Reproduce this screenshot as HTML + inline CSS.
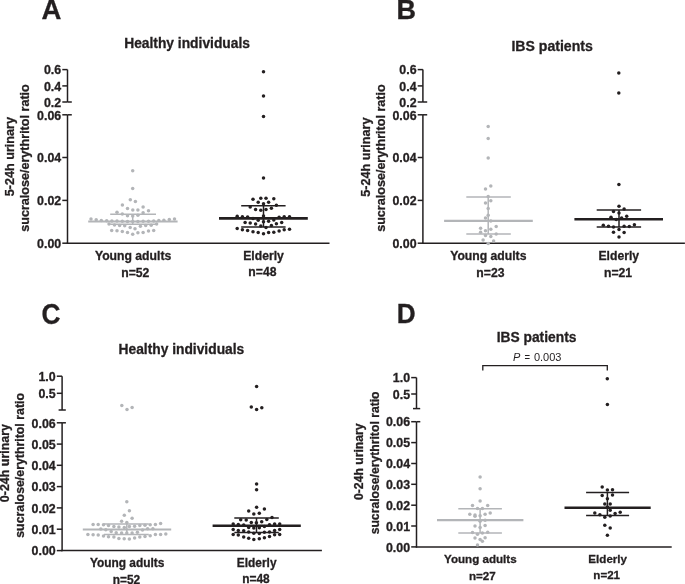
<!DOCTYPE html>
<html><head><meta charset="utf-8"><style>
html,body{margin:0;padding:0;background:#fff;}
body{width:685px;height:584px;overflow:hidden;}
svg{display:block;font-family:"Liberation Sans", sans-serif;will-change:transform;}
.b{stroke:#231f20;stroke-width:0.3px;}
</style></head><body>
<svg width="685" height="584" viewBox="0 0 685 584">
<rect width="685" height="584" fill="#fff"/>
<line x1="67.5" y1="69.6" x2="67.5" y2="102.0" stroke="#231f20" stroke-width="1.5"/>
<line x1="67.5" y1="114.8" x2="67.5" y2="243.3" stroke="#231f20" stroke-width="1.5"/>
<line x1="62.3" y1="69.6" x2="67.5" y2="69.6" stroke="#231f20" stroke-width="1.5"/>
<text x="61.2" y="74.3" font-size="12.4" text-anchor="end" font-weight="bold" font-style="normal" fill="#231f20" class="b" >0.6</text>
<line x1="62.3" y1="85.9" x2="67.5" y2="85.9" stroke="#231f20" stroke-width="1.5"/>
<text x="61.2" y="90.60000000000001" font-size="12.4" text-anchor="end" font-weight="bold" font-style="normal" fill="#231f20" class="b" >0.4</text>
<line x1="62.3" y1="102.0" x2="67.5" y2="102.0" stroke="#231f20" stroke-width="1.5"/>
<text x="61.2" y="106.7" font-size="12.4" text-anchor="end" font-weight="bold" font-style="normal" fill="#231f20" class="b" >0.2</text>
<line x1="62.3" y1="114.8" x2="67.5" y2="114.8" stroke="#231f20" stroke-width="1.5"/>
<text x="61.2" y="119.5" font-size="12.4" text-anchor="end" font-weight="bold" font-style="normal" fill="#231f20" class="b" >0.06</text>
<line x1="62.3" y1="157.5" x2="67.5" y2="157.5" stroke="#231f20" stroke-width="1.5"/>
<text x="61.2" y="162.2" font-size="12.4" text-anchor="end" font-weight="bold" font-style="normal" fill="#231f20" class="b" >0.04</text>
<line x1="62.3" y1="200.4" x2="67.5" y2="200.4" stroke="#231f20" stroke-width="1.5"/>
<text x="61.2" y="205.1" font-size="12.4" text-anchor="end" font-weight="bold" font-style="normal" fill="#231f20" class="b" >0.02</text>
<line x1="62.3" y1="243.2" x2="67.5" y2="243.2" stroke="#231f20" stroke-width="1.5"/>
<text x="61.2" y="247.89999999999998" font-size="12.4" text-anchor="end" font-weight="bold" font-style="normal" fill="#231f20" class="b" >0.00</text>
<line x1="67.5" y1="102.0" x2="71.8" y2="102.0" stroke="#231f20" stroke-width="1.5"/>
<line x1="67.5" y1="114.8" x2="71.8" y2="114.8" stroke="#231f20" stroke-width="1.5"/>
<line x1="66.75" y1="243.3" x2="329.5" y2="243.3" stroke="#231f20" stroke-width="1.5"/>
<line x1="422.9" y1="69.6" x2="422.9" y2="102.0" stroke="#231f20" stroke-width="1.5"/>
<line x1="422.9" y1="114.8" x2="422.9" y2="243.3" stroke="#231f20" stroke-width="1.5"/>
<line x1="417.7" y1="69.6" x2="422.9" y2="69.6" stroke="#231f20" stroke-width="1.5"/>
<text x="416.59999999999997" y="74.3" font-size="12.4" text-anchor="end" font-weight="bold" font-style="normal" fill="#231f20" class="b" >0.6</text>
<line x1="417.7" y1="85.9" x2="422.9" y2="85.9" stroke="#231f20" stroke-width="1.5"/>
<text x="416.59999999999997" y="90.60000000000001" font-size="12.4" text-anchor="end" font-weight="bold" font-style="normal" fill="#231f20" class="b" >0.4</text>
<line x1="417.7" y1="102.0" x2="422.9" y2="102.0" stroke="#231f20" stroke-width="1.5"/>
<text x="416.59999999999997" y="106.7" font-size="12.4" text-anchor="end" font-weight="bold" font-style="normal" fill="#231f20" class="b" >0.2</text>
<line x1="417.7" y1="114.8" x2="422.9" y2="114.8" stroke="#231f20" stroke-width="1.5"/>
<text x="416.59999999999997" y="119.5" font-size="12.4" text-anchor="end" font-weight="bold" font-style="normal" fill="#231f20" class="b" >0.06</text>
<line x1="417.7" y1="157.5" x2="422.9" y2="157.5" stroke="#231f20" stroke-width="1.5"/>
<text x="416.59999999999997" y="162.2" font-size="12.4" text-anchor="end" font-weight="bold" font-style="normal" fill="#231f20" class="b" >0.04</text>
<line x1="417.7" y1="200.4" x2="422.9" y2="200.4" stroke="#231f20" stroke-width="1.5"/>
<text x="416.59999999999997" y="205.1" font-size="12.4" text-anchor="end" font-weight="bold" font-style="normal" fill="#231f20" class="b" >0.02</text>
<line x1="417.7" y1="243.2" x2="422.9" y2="243.2" stroke="#231f20" stroke-width="1.5"/>
<text x="416.59999999999997" y="247.89999999999998" font-size="12.4" text-anchor="end" font-weight="bold" font-style="normal" fill="#231f20" class="b" >0.00</text>
<line x1="422.9" y1="102.0" x2="427.2" y2="102.0" stroke="#231f20" stroke-width="1.5"/>
<line x1="422.9" y1="114.8" x2="427.2" y2="114.8" stroke="#231f20" stroke-width="1.5"/>
<line x1="422.15" y1="243.3" x2="684.9" y2="243.3" stroke="#231f20" stroke-width="1.5"/>
<text x="41.4" y="18.7" font-size="27.5" text-anchor="start" font-weight="bold" font-style="normal" fill="#231f20" class="b" >A</text>
<text x="396.6" y="18.5" font-size="27" text-anchor="start" font-weight="bold" font-style="normal" fill="#231f20" class="b" >B</text>
<text transform="translate(41.6,323.6) scale(0.97,1.08)" font-size="27" font-weight="bold" fill="#231f20" class="b">C</text>
<text transform="translate(396.8,323.3) scale(0.97,1.04)" font-size="27" font-weight="bold" fill="#231f20" class="b">D</text>
<text x="124.2" y="47.9" font-size="13.8" text-anchor="start" font-weight="bold" font-style="normal" fill="#231f20" class="b" >Healthy individuals</text>
<text x="511.4" y="50.8" font-size="14.1" text-anchor="start" font-weight="bold" font-style="normal" fill="#231f20" class="b" >IBS patients</text>
<text x="118.5" y="354.1" font-size="13.8" text-anchor="start" font-weight="bold" font-style="normal" fill="#231f20" class="b" >Healthy individuals</text>
<text x="496.7" y="341.6" font-size="13.8" text-anchor="start" font-weight="bold" font-style="normal" fill="#231f20" class="b" >IBS patients</text>
<text transform="translate(14.0,156.6) rotate(-90)" font-size="12.62" text-anchor="middle" font-weight="bold" fill="#231f20" class="b">5-24h urinary</text>
<text transform="translate(29.0,158.0) rotate(-90)" font-size="12.58" text-anchor="middle" font-weight="bold" fill="#231f20" class="b">sucralose/erythritol ratio</text>
<text transform="translate(369.7,157.1) rotate(-90)" font-size="12.62" text-anchor="middle" font-weight="bold" fill="#231f20" class="b">5-24h urinary</text>
<text transform="translate(384.7,158.1) rotate(-90)" font-size="12.58" text-anchor="middle" font-weight="bold" fill="#231f20" class="b">sucralose/erythritol ratio</text>
<text transform="translate(8.5,463.1) rotate(-90)" font-size="12.45" text-anchor="middle" font-weight="bold" fill="#231f20" class="b">0-24h urinary</text>
<text transform="translate(24.3,465.4) rotate(-90)" font-size="12.35" text-anchor="middle" font-weight="bold" fill="#231f20" class="b">sucralose/erythritol ratio</text>
<text transform="translate(363.3,461.7) rotate(-90)" font-size="12.2" text-anchor="middle" font-weight="bold" fill="#231f20" class="b">0-24h urinary</text>
<text transform="translate(378.9,462.9) rotate(-90)" font-size="12.2" text-anchor="middle" font-weight="bold" fill="#231f20" class="b">sucralose/erythritol ratio</text>
<text x="133.1" y="259.7" font-size="12.2" text-anchor="middle" font-weight="bold" font-style="normal" fill="#231f20" class="b" >Young adults</text>
<text x="135.3" y="276.6" font-size="12.2" text-anchor="middle" font-weight="bold" font-style="normal" fill="#231f20" class="b" >n=52</text>
<text x="263.5" y="259.6" font-size="12.2" text-anchor="middle" font-weight="bold" font-style="normal" fill="#231f20" class="b" >Elderly</text>
<text x="262.4" y="276.0" font-size="12.2" text-anchor="middle" font-weight="bold" font-style="normal" fill="#231f20" class="b" >n=48</text>
<text x="488.3" y="259.8" font-size="12.2" text-anchor="middle" font-weight="bold" font-style="normal" fill="#231f20" class="b" >Young adults</text>
<text x="490.4" y="276.6" font-size="12.2" text-anchor="middle" font-weight="bold" font-style="normal" fill="#231f20" class="b" >n=23</text>
<text x="618.8" y="259.9" font-size="12.2" text-anchor="middle" font-weight="bold" font-style="normal" fill="#231f20" class="b" >Elderly</text>
<text x="618.0" y="276.5" font-size="12.2" text-anchor="middle" font-weight="bold" font-style="normal" fill="#231f20" class="b" >n=21</text>
<text x="127.1" y="566.7" font-size="11.9" text-anchor="middle" font-weight="bold" font-style="normal" fill="#231f20" class="b" >Young adults</text>
<text x="126.5" y="583.5" font-size="11.9" text-anchor="middle" font-weight="bold" font-style="normal" fill="#231f20" class="b" >n=52</text>
<text x="256.7" y="566.5" font-size="11.9" text-anchor="middle" font-weight="bold" font-style="normal" fill="#231f20" class="b" >Elderly</text>
<text x="255.9" y="582.6" font-size="11.9" text-anchor="middle" font-weight="bold" font-style="normal" fill="#231f20" class="b" >n=48</text>
<text x="480.3" y="562.6" font-size="11.6" text-anchor="middle" font-weight="bold" font-style="normal" fill="#231f20" class="b" >Young adults</text>
<text x="482.3" y="579.8" font-size="11.6" text-anchor="middle" font-weight="bold" font-style="normal" fill="#231f20" class="b" >n=27</text>
<text x="607.7" y="563.4" font-size="11.6" text-anchor="middle" font-weight="bold" font-style="normal" fill="#231f20" class="b" >Elderly</text>
<text x="606.7" y="579.4" font-size="11.6" text-anchor="middle" font-weight="bold" font-style="normal" fill="#231f20" class="b" >n=21</text>
<line x1="62.1" y1="376.2" x2="62.1" y2="410.0" stroke="#231f20" stroke-width="1.5"/>
<line x1="62.1" y1="422.8" x2="62.1" y2="551.25" stroke="#231f20" stroke-width="1.5"/>
<line x1="56.800000000000004" y1="376.2" x2="62.1" y2="376.2" stroke="#231f20" stroke-width="1.5"/>
<text x="55.7" y="380.9" font-size="12.4" text-anchor="end" font-weight="bold" font-style="normal" fill="#231f20" class="b" >1.0</text>
<line x1="56.800000000000004" y1="393.3" x2="62.1" y2="393.3" stroke="#231f20" stroke-width="1.5"/>
<text x="55.7" y="398.0" font-size="12.4" text-anchor="end" font-weight="bold" font-style="normal" fill="#231f20" class="b" >0.5</text>
<line x1="56.800000000000004" y1="422.8" x2="62.1" y2="422.8" stroke="#231f20" stroke-width="1.5"/>
<text x="55.7" y="427.5" font-size="12.4" text-anchor="end" font-weight="bold" font-style="normal" fill="#231f20" class="b" >0.06</text>
<line x1="56.800000000000004" y1="444.1" x2="62.1" y2="444.1" stroke="#231f20" stroke-width="1.5"/>
<text x="55.7" y="448.8" font-size="12.4" text-anchor="end" font-weight="bold" font-style="normal" fill="#231f20" class="b" >0.05</text>
<line x1="56.800000000000004" y1="465.3" x2="62.1" y2="465.3" stroke="#231f20" stroke-width="1.5"/>
<text x="55.7" y="470.0" font-size="12.4" text-anchor="end" font-weight="bold" font-style="normal" fill="#231f20" class="b" >0.04</text>
<line x1="56.800000000000004" y1="486.6" x2="62.1" y2="486.6" stroke="#231f20" stroke-width="1.5"/>
<text x="55.7" y="491.3" font-size="12.4" text-anchor="end" font-weight="bold" font-style="normal" fill="#231f20" class="b" >0.03</text>
<line x1="56.800000000000004" y1="507.9" x2="62.1" y2="507.9" stroke="#231f20" stroke-width="1.5"/>
<text x="55.7" y="512.6" font-size="12.4" text-anchor="end" font-weight="bold" font-style="normal" fill="#231f20" class="b" >0.02</text>
<line x1="56.800000000000004" y1="529.2" x2="62.1" y2="529.2" stroke="#231f20" stroke-width="1.5"/>
<text x="55.7" y="533.9000000000001" font-size="12.4" text-anchor="end" font-weight="bold" font-style="normal" fill="#231f20" class="b" >0.01</text>
<line x1="56.800000000000004" y1="550.6" x2="62.1" y2="550.6" stroke="#231f20" stroke-width="1.5"/>
<text x="55.7" y="555.3000000000001" font-size="12.4" text-anchor="end" font-weight="bold" font-style="normal" fill="#231f20" class="b" >0.00</text>
<line x1="58.6" y1="410.0" x2="65.8" y2="410.0" stroke="#231f20" stroke-width="1.5"/>
<line x1="62.1" y1="422.8" x2="65.9" y2="422.8" stroke="#231f20" stroke-width="1.5"/>
<line x1="61.45" y1="550.6" x2="321.9" y2="550.6" stroke="#231f20" stroke-width="1.5"/>
<line x1="416.5" y1="377.6" x2="416.5" y2="408.6" stroke="#231f20" stroke-width="1.5"/>
<line x1="416.5" y1="421.7" x2="416.5" y2="547.55" stroke="#231f20" stroke-width="1.5"/>
<line x1="411.2" y1="377.6" x2="416.5" y2="377.6" stroke="#231f20" stroke-width="1.5"/>
<text x="410.1" y="382.3" font-size="12.4" text-anchor="end" font-weight="bold" font-style="normal" fill="#231f20" class="b" >1.0</text>
<line x1="411.2" y1="394.0" x2="416.5" y2="394.0" stroke="#231f20" stroke-width="1.5"/>
<text x="410.1" y="398.7" font-size="12.4" text-anchor="end" font-weight="bold" font-style="normal" fill="#231f20" class="b" >0.5</text>
<line x1="411.2" y1="421.7" x2="416.5" y2="421.7" stroke="#231f20" stroke-width="1.5"/>
<text x="410.1" y="426.4" font-size="12.4" text-anchor="end" font-weight="bold" font-style="normal" fill="#231f20" class="b" >0.06</text>
<line x1="411.2" y1="442.6" x2="416.5" y2="442.6" stroke="#231f20" stroke-width="1.5"/>
<text x="410.1" y="447.3" font-size="12.4" text-anchor="end" font-weight="bold" font-style="normal" fill="#231f20" class="b" >0.05</text>
<line x1="411.2" y1="463.5" x2="416.5" y2="463.5" stroke="#231f20" stroke-width="1.5"/>
<text x="410.1" y="468.2" font-size="12.4" text-anchor="end" font-weight="bold" font-style="normal" fill="#231f20" class="b" >0.04</text>
<line x1="411.2" y1="484.3" x2="416.5" y2="484.3" stroke="#231f20" stroke-width="1.5"/>
<text x="410.1" y="489.0" font-size="12.4" text-anchor="end" font-weight="bold" font-style="normal" fill="#231f20" class="b" >0.03</text>
<line x1="411.2" y1="505.2" x2="416.5" y2="505.2" stroke="#231f20" stroke-width="1.5"/>
<text x="410.1" y="509.9" font-size="12.4" text-anchor="end" font-weight="bold" font-style="normal" fill="#231f20" class="b" >0.02</text>
<line x1="411.2" y1="526.0" x2="416.5" y2="526.0" stroke="#231f20" stroke-width="1.5"/>
<text x="410.1" y="530.7" font-size="12.4" text-anchor="end" font-weight="bold" font-style="normal" fill="#231f20" class="b" >0.01</text>
<line x1="411.2" y1="546.9" x2="416.5" y2="546.9" stroke="#231f20" stroke-width="1.5"/>
<text x="410.1" y="551.6" font-size="12.4" text-anchor="end" font-weight="bold" font-style="normal" fill="#231f20" class="b" >0.00</text>
<line x1="413.0" y1="408.6" x2="420.2" y2="408.6" stroke="#231f20" stroke-width="1.5"/>
<line x1="416.5" y1="421.7" x2="420.3" y2="421.7" stroke="#231f20" stroke-width="1.5"/>
<line x1="415.85" y1="546.9" x2="671.7" y2="546.9" stroke="#231f20" stroke-width="1.5"/>
<polyline points="482.8,370.6 482.8,365.6 607.3,365.6 607.3,370.6" fill="none" stroke="#231f20" stroke-width="1.3"/>
<text y="361.2" font-size="11" fill="#231f20"><tspan x="513.0" font-style="italic">P</tspan><tspan x="524.6" textLength="5.6" lengthAdjust="spacingAndGlyphs">=</tspan><tspan x="533.9">0.003</tspan></text>
<circle cx="132.7" cy="170.8" r="1.75" fill="#b3b5b8"/>
<circle cx="132.7" cy="188.4" r="1.75" fill="#b3b5b8"/>
<circle cx="130.3" cy="199.7" r="1.75" fill="#b3b5b8"/>
<circle cx="135.4" cy="201.5" r="1.75" fill="#b3b5b8"/>
<circle cx="122.4" cy="205" r="1.75" fill="#b3b5b8"/>
<circle cx="143.1" cy="207" r="1.75" fill="#b3b5b8"/>
<circle cx="127.5" cy="208.5" r="1.75" fill="#b3b5b8"/>
<circle cx="132.8" cy="210" r="1.75" fill="#b3b5b8"/>
<circle cx="137.9" cy="210" r="1.75" fill="#b3b5b8"/>
<circle cx="148.5" cy="210.7" r="1.75" fill="#b3b5b8"/>
<circle cx="117" cy="212.3" r="1.75" fill="#b3b5b8"/>
<circle cx="143.1" cy="212.7" r="1.75" fill="#b3b5b8"/>
<circle cx="122.3" cy="214.1" r="1.75" fill="#b3b5b8"/>
<circle cx="127.5" cy="215.8" r="1.75" fill="#b3b5b8"/>
<circle cx="132.7" cy="216.1" r="1.75" fill="#b3b5b8"/>
<circle cx="137.9" cy="215.2" r="1.75" fill="#b3b5b8"/>
<circle cx="91" cy="219.1" r="1.75" fill="#b3b5b8"/>
<circle cx="96.2" cy="219.8" r="1.75" fill="#b3b5b8"/>
<circle cx="101.3" cy="220.6" r="1.75" fill="#b3b5b8"/>
<circle cx="106.7" cy="220.8" r="1.75" fill="#b3b5b8"/>
<circle cx="111.9" cy="221.1" r="1.75" fill="#b3b5b8"/>
<circle cx="117" cy="221.1" r="1.75" fill="#b3b5b8"/>
<circle cx="122.3" cy="221.3" r="1.75" fill="#b3b5b8"/>
<circle cx="127.5" cy="221.4" r="1.75" fill="#b3b5b8"/>
<circle cx="132.7" cy="221.5" r="1.75" fill="#b3b5b8"/>
<circle cx="137.9" cy="221.4" r="1.75" fill="#b3b5b8"/>
<circle cx="143.1" cy="221.3" r="1.75" fill="#b3b5b8"/>
<circle cx="148.5" cy="221.3" r="1.75" fill="#b3b5b8"/>
<circle cx="153.7" cy="221.1" r="1.75" fill="#b3b5b8"/>
<circle cx="158.8" cy="220.6" r="1.75" fill="#b3b5b8"/>
<circle cx="163.9" cy="220.2" r="1.75" fill="#b3b5b8"/>
<circle cx="169.3" cy="219.6" r="1.75" fill="#b3b5b8"/>
<circle cx="174.5" cy="219.1" r="1.75" fill="#b3b5b8"/>
<circle cx="109" cy="224.1" r="1.75" fill="#b3b5b8"/>
<circle cx="114.5" cy="225.1" r="1.75" fill="#b3b5b8"/>
<circle cx="119.6" cy="225.4" r="1.75" fill="#b3b5b8"/>
<circle cx="124.7" cy="225.8" r="1.75" fill="#b3b5b8"/>
<circle cx="130.2" cy="227.5" r="1.75" fill="#b3b5b8"/>
<circle cx="135" cy="228.7" r="1.75" fill="#b3b5b8"/>
<circle cx="140.4" cy="226.3" r="1.75" fill="#b3b5b8"/>
<circle cx="145.7" cy="225.6" r="1.75" fill="#b3b5b8"/>
<circle cx="151.2" cy="225.3" r="1.75" fill="#b3b5b8"/>
<circle cx="156.6" cy="224.1" r="1.75" fill="#b3b5b8"/>
<circle cx="111.7" cy="230.5" r="1.75" fill="#b3b5b8"/>
<circle cx="117" cy="230.7" r="1.75" fill="#b3b5b8"/>
<circle cx="122.3" cy="231.6" r="1.75" fill="#b3b5b8"/>
<circle cx="127.5" cy="232.6" r="1.75" fill="#b3b5b8"/>
<circle cx="132.7" cy="234.2" r="1.75" fill="#b3b5b8"/>
<circle cx="137.9" cy="232.7" r="1.75" fill="#b3b5b8"/>
<circle cx="143.1" cy="232.4" r="1.75" fill="#b3b5b8"/>
<circle cx="148.5" cy="230.9" r="1.75" fill="#b3b5b8"/>
<circle cx="153.7" cy="230.5" r="1.75" fill="#b3b5b8"/>
<line x1="88.2" y1="221.5" x2="177.6" y2="221.5" stroke="#b3b5b8" stroke-width="2.2"/>
<line x1="110.2" y1="214.3" x2="156.0" y2="214.3" stroke="#b3b5b8" stroke-width="1.5"/>
<line x1="110.2" y1="224.2" x2="156.0" y2="224.2" stroke="#b3b5b8" stroke-width="1.5"/>
<line x1="132.7" y1="214.3" x2="132.7" y2="224.2" stroke="#b3b5b8" stroke-width="1.5"/>
<circle cx="488.2" cy="126.4" r="1.75" fill="#b3b5b8"/>
<circle cx="488.2" cy="138.6" r="1.75" fill="#b3b5b8"/>
<circle cx="488.2" cy="157.9" r="1.75" fill="#b3b5b8"/>
<circle cx="490.8" cy="186.1" r="1.75" fill="#b3b5b8"/>
<circle cx="485.5" cy="189.1" r="1.75" fill="#b3b5b8"/>
<circle cx="488.2" cy="196.4" r="1.75" fill="#b3b5b8"/>
<circle cx="490.8" cy="200.7" r="1.75" fill="#b3b5b8"/>
<circle cx="485.5" cy="203.1" r="1.75" fill="#b3b5b8"/>
<circle cx="488.2" cy="208.6" r="1.75" fill="#b3b5b8"/>
<circle cx="488.2" cy="215.3" r="1.75" fill="#b3b5b8"/>
<circle cx="485.5" cy="218" r="1.75" fill="#b3b5b8"/>
<circle cx="490.8" cy="220.9" r="1.75" fill="#b3b5b8"/>
<circle cx="496.2" cy="226.4" r="1.75" fill="#b3b5b8"/>
<circle cx="480.6" cy="228.2" r="1.75" fill="#b3b5b8"/>
<circle cx="490.8" cy="229.3" r="1.75" fill="#b3b5b8"/>
<circle cx="485.5" cy="230.8" r="1.75" fill="#b3b5b8"/>
<circle cx="480.6" cy="232.3" r="1.75" fill="#b3b5b8"/>
<circle cx="496.2" cy="234" r="1.75" fill="#b3b5b8"/>
<circle cx="485.5" cy="235.5" r="1.75" fill="#b3b5b8"/>
<circle cx="490.8" cy="236.6" r="1.75" fill="#b3b5b8"/>
<circle cx="483.1" cy="239.9" r="1.75" fill="#b3b5b8"/>
<circle cx="493.6" cy="241" r="1.75" fill="#b3b5b8"/>
<circle cx="488.2" cy="243.5" r="1.75" fill="#b3b5b8"/>
<line x1="444.1" y1="220.8" x2="532.8" y2="220.8" stroke="#b3b5b8" stroke-width="2.2"/>
<line x1="466.3" y1="197.1" x2="510.8" y2="197.1" stroke="#b3b5b8" stroke-width="1.5"/>
<line x1="466.3" y1="234.0" x2="510.8" y2="234.0" stroke="#b3b5b8" stroke-width="1.5"/>
<line x1="488.2" y1="197.1" x2="488.2" y2="234.0" stroke="#b3b5b8" stroke-width="1.5"/>
<circle cx="121.8" cy="405.5" r="1.75" fill="#b3b5b8"/>
<circle cx="127" cy="409.6" r="1.75" fill="#b3b5b8"/>
<circle cx="132.1" cy="407.6" r="1.75" fill="#b3b5b8"/>
<circle cx="126.8" cy="501.7" r="1.75" fill="#b3b5b8"/>
<circle cx="129.4" cy="510.7" r="1.75" fill="#b3b5b8"/>
<circle cx="124.3" cy="515.3" r="1.75" fill="#b3b5b8"/>
<circle cx="132.1" cy="518.2" r="1.75" fill="#b3b5b8"/>
<circle cx="121.6" cy="521.3" r="1.75" fill="#b3b5b8"/>
<circle cx="126.8" cy="522.4" r="1.75" fill="#b3b5b8"/>
<circle cx="93.1" cy="524.4" r="1.75" fill="#b3b5b8"/>
<circle cx="98.2" cy="524.4" r="1.75" fill="#b3b5b8"/>
<circle cx="103.5" cy="524.7" r="1.75" fill="#b3b5b8"/>
<circle cx="108.5" cy="525.4" r="1.75" fill="#b3b5b8"/>
<circle cx="113.9" cy="526.4" r="1.75" fill="#b3b5b8"/>
<circle cx="118.9" cy="527.1" r="1.75" fill="#b3b5b8"/>
<circle cx="124.3" cy="527.4" r="1.75" fill="#b3b5b8"/>
<circle cx="129.4" cy="526.4" r="1.75" fill="#b3b5b8"/>
<circle cx="134.6" cy="526.3" r="1.75" fill="#b3b5b8"/>
<circle cx="139.8" cy="525.6" r="1.75" fill="#b3b5b8"/>
<circle cx="145" cy="525.2" r="1.75" fill="#b3b5b8"/>
<circle cx="150.2" cy="524.7" r="1.75" fill="#b3b5b8"/>
<circle cx="155.4" cy="524.4" r="1.75" fill="#b3b5b8"/>
<circle cx="160.6" cy="523.6" r="1.75" fill="#b3b5b8"/>
<circle cx="100.8" cy="529.1" r="1.75" fill="#b3b5b8"/>
<circle cx="105.8" cy="529.8" r="1.75" fill="#b3b5b8"/>
<circle cx="142.5" cy="530.1" r="1.75" fill="#b3b5b8"/>
<circle cx="147.6" cy="528.8" r="1.75" fill="#b3b5b8"/>
<circle cx="152.9" cy="528.8" r="1.75" fill="#b3b5b8"/>
<circle cx="111.2" cy="531.5" r="1.75" fill="#b3b5b8"/>
<circle cx="116.2" cy="532.8" r="1.75" fill="#b3b5b8"/>
<circle cx="121.6" cy="533.1" r="1.75" fill="#b3b5b8"/>
<circle cx="126.8" cy="532.9" r="1.75" fill="#b3b5b8"/>
<circle cx="132.1" cy="533" r="1.75" fill="#b3b5b8"/>
<circle cx="137.4" cy="532.3" r="1.75" fill="#b3b5b8"/>
<circle cx="87.9" cy="534.5" r="1.75" fill="#b3b5b8"/>
<circle cx="93.1" cy="534.8" r="1.75" fill="#b3b5b8"/>
<circle cx="98.2" cy="535" r="1.75" fill="#b3b5b8"/>
<circle cx="103.5" cy="536" r="1.75" fill="#b3b5b8"/>
<circle cx="108.5" cy="536.8" r="1.75" fill="#b3b5b8"/>
<circle cx="113.9" cy="537" r="1.75" fill="#b3b5b8"/>
<circle cx="118.9" cy="538.4" r="1.75" fill="#b3b5b8"/>
<circle cx="124.2" cy="538.8" r="1.75" fill="#b3b5b8"/>
<circle cx="129.35" cy="539" r="1.75" fill="#b3b5b8"/>
<circle cx="134.6" cy="538" r="1.75" fill="#b3b5b8"/>
<circle cx="139.8" cy="537" r="1.75" fill="#b3b5b8"/>
<circle cx="145" cy="536.4" r="1.75" fill="#b3b5b8"/>
<circle cx="150.2" cy="535.7" r="1.75" fill="#b3b5b8"/>
<circle cx="155.4" cy="534.6" r="1.75" fill="#b3b5b8"/>
<circle cx="160.6" cy="534.5" r="1.75" fill="#b3b5b8"/>
<circle cx="165.8" cy="534.1" r="1.75" fill="#b3b5b8"/>
<line x1="82.8" y1="529.5" x2="171.2" y2="529.5" stroke="#b3b5b8" stroke-width="2.1"/>
<line x1="104.0" y1="524.0" x2="148.8" y2="524.0" stroke="#b3b5b8" stroke-width="1.5"/>
<line x1="104.0" y1="534.4" x2="148.8" y2="534.4" stroke="#b3b5b8" stroke-width="1.5"/>
<line x1="126.8" y1="524.0" x2="126.8" y2="534.4" stroke="#b3b5b8" stroke-width="1.5"/>
<circle cx="480.1" cy="476.9" r="1.75" fill="#b3b5b8"/>
<circle cx="480.1" cy="488.7" r="1.75" fill="#b3b5b8"/>
<circle cx="480.1" cy="500.9" r="1.75" fill="#b3b5b8"/>
<circle cx="472.5" cy="505.6" r="1.75" fill="#b3b5b8"/>
<circle cx="487.7" cy="505.6" r="1.75" fill="#b3b5b8"/>
<circle cx="477.5" cy="508.6" r="1.75" fill="#b3b5b8"/>
<circle cx="482.4" cy="508.6" r="1.75" fill="#b3b5b8"/>
<circle cx="469.8" cy="514.3" r="1.75" fill="#b3b5b8"/>
<circle cx="475" cy="515.1" r="1.75" fill="#b3b5b8"/>
<circle cx="475" cy="516.3" r="1.75" fill="#b3b5b8"/>
<circle cx="480.1" cy="515.7" r="1.75" fill="#b3b5b8"/>
<circle cx="485.1" cy="514.3" r="1.75" fill="#b3b5b8"/>
<circle cx="490.2" cy="512.9" r="1.75" fill="#b3b5b8"/>
<circle cx="480.1" cy="521.3" r="1.75" fill="#b3b5b8"/>
<circle cx="485.1" cy="520.2" r="1.75" fill="#b3b5b8"/>
<circle cx="475" cy="526.1" r="1.75" fill="#b3b5b8"/>
<circle cx="485.1" cy="525.4" r="1.75" fill="#b3b5b8"/>
<circle cx="480.1" cy="527.4" r="1.75" fill="#b3b5b8"/>
<circle cx="472.5" cy="532.5" r="1.75" fill="#b3b5b8"/>
<circle cx="477.5" cy="534.2" r="1.75" fill="#b3b5b8"/>
<circle cx="482.4" cy="533.1" r="1.75" fill="#b3b5b8"/>
<circle cx="487.7" cy="532.2" r="1.75" fill="#b3b5b8"/>
<circle cx="475" cy="538.1" r="1.75" fill="#b3b5b8"/>
<circle cx="480.1" cy="539.5" r="1.75" fill="#b3b5b8"/>
<circle cx="482.4" cy="541.3" r="1.75" fill="#b3b5b8"/>
<circle cx="485.1" cy="537.8" r="1.75" fill="#b3b5b8"/>
<circle cx="477.5" cy="545.1" r="1.75" fill="#b3b5b8"/>
<line x1="437.0" y1="520.1" x2="523.4" y2="520.1" stroke="#b3b5b8" stroke-width="2.2"/>
<line x1="458.3" y1="508.8" x2="501.9" y2="508.8" stroke="#b3b5b8" stroke-width="1.5"/>
<line x1="458.3" y1="533.0" x2="501.9" y2="533.0" stroke="#b3b5b8" stroke-width="1.5"/>
<line x1="480.1" y1="508.8" x2="480.1" y2="533.0" stroke="#b3b5b8" stroke-width="1.5"/>
<circle cx="263.5" cy="71.8" r="1.75" fill="#231f20"/>
<circle cx="263.5" cy="96" r="1.75" fill="#231f20"/>
<circle cx="263.5" cy="116.5" r="1.75" fill="#231f20"/>
<circle cx="263.5" cy="178.1" r="1.75" fill="#231f20"/>
<circle cx="253" cy="199.2" r="1.75" fill="#231f20"/>
<circle cx="260.8" cy="198.3" r="1.75" fill="#231f20"/>
<circle cx="266" cy="198.3" r="1.75" fill="#231f20"/>
<circle cx="273.8" cy="198.7" r="1.75" fill="#231f20"/>
<circle cx="258.2" cy="202.2" r="1.75" fill="#231f20"/>
<circle cx="268.6" cy="202.2" r="1.75" fill="#231f20"/>
<circle cx="263.5" cy="203.7" r="1.75" fill="#231f20"/>
<circle cx="276.4" cy="205.3" r="1.75" fill="#231f20"/>
<circle cx="250.2" cy="207" r="1.75" fill="#231f20"/>
<circle cx="271.4" cy="208.3" r="1.75" fill="#231f20"/>
<circle cx="255.6" cy="209.5" r="1.75" fill="#231f20"/>
<circle cx="260.8" cy="210.2" r="1.75" fill="#231f20"/>
<circle cx="266" cy="209.5" r="1.75" fill="#231f20"/>
<circle cx="263.5" cy="216" r="1.75" fill="#231f20"/>
<circle cx="237.2" cy="216.2" r="1.75" fill="#231f20"/>
<circle cx="242.4" cy="216.7" r="1.75" fill="#231f20"/>
<circle cx="247.6" cy="217.1" r="1.75" fill="#231f20"/>
<circle cx="253" cy="218.5" r="1.75" fill="#231f20"/>
<circle cx="258.2" cy="220.3" r="1.75" fill="#231f20"/>
<circle cx="263.5" cy="221.7" r="1.75" fill="#231f20"/>
<circle cx="268.6" cy="221.2" r="1.75" fill="#231f20"/>
<circle cx="273.8" cy="220" r="1.75" fill="#231f20"/>
<circle cx="279.1" cy="217.3" r="1.75" fill="#231f20"/>
<circle cx="284.2" cy="216.7" r="1.75" fill="#231f20"/>
<circle cx="289.5" cy="216.7" r="1.75" fill="#231f20"/>
<circle cx="245.1" cy="222.4" r="1.75" fill="#231f20"/>
<circle cx="250.2" cy="223" r="1.75" fill="#231f20"/>
<circle cx="255.6" cy="224" r="1.75" fill="#231f20"/>
<circle cx="260.8" cy="226.1" r="1.75" fill="#231f20"/>
<circle cx="266" cy="227.4" r="1.75" fill="#231f20"/>
<circle cx="271.4" cy="225.4" r="1.75" fill="#231f20"/>
<circle cx="276.4" cy="223.7" r="1.75" fill="#231f20"/>
<circle cx="281.7" cy="222.4" r="1.75" fill="#231f20"/>
<circle cx="237.2" cy="228.6" r="1.75" fill="#231f20"/>
<circle cx="242.4" cy="229.8" r="1.75" fill="#231f20"/>
<circle cx="247.6" cy="230.4" r="1.75" fill="#231f20"/>
<circle cx="253" cy="231.8" r="1.75" fill="#231f20"/>
<circle cx="258.2" cy="232.5" r="1.75" fill="#231f20"/>
<circle cx="263.5" cy="233.8" r="1.75" fill="#231f20"/>
<circle cx="268.6" cy="232.5" r="1.75" fill="#231f20"/>
<circle cx="273.8" cy="232.2" r="1.75" fill="#231f20"/>
<circle cx="279.1" cy="231.1" r="1.75" fill="#231f20"/>
<circle cx="284.2" cy="229.8" r="1.75" fill="#231f20"/>
<circle cx="289.5" cy="229.2" r="1.75" fill="#231f20"/>
<line x1="219.0" y1="218.35" x2="307.8" y2="218.35" stroke="#231f20" stroke-width="2.6"/>
<line x1="241.2" y1="205.8" x2="285.6" y2="205.8" stroke="#231f20" stroke-width="1.5"/>
<line x1="241.2" y1="227.1" x2="285.6" y2="227.1" stroke="#231f20" stroke-width="1.5"/>
<line x1="263.5" y1="205.8" x2="263.5" y2="227.1" stroke="#231f20" stroke-width="1.5"/>
<circle cx="618.8" cy="73.1" r="1.75" fill="#231f20"/>
<circle cx="618.8" cy="93.1" r="1.75" fill="#231f20"/>
<circle cx="618.9" cy="184.6" r="1.75" fill="#231f20"/>
<circle cx="619" cy="206.2" r="1.75" fill="#231f20"/>
<circle cx="624.1" cy="208.9" r="1.75" fill="#231f20"/>
<circle cx="613.5" cy="211.6" r="1.75" fill="#231f20"/>
<circle cx="619" cy="212.9" r="1.75" fill="#231f20"/>
<circle cx="611" cy="217.3" r="1.75" fill="#231f20"/>
<circle cx="621.6" cy="217.9" r="1.75" fill="#231f20"/>
<circle cx="626.7" cy="216.2" r="1.75" fill="#231f20"/>
<circle cx="616.2" cy="219.4" r="1.75" fill="#231f20"/>
<circle cx="603.3" cy="225.3" r="1.75" fill="#231f20"/>
<circle cx="608.5" cy="226.3" r="1.75" fill="#231f20"/>
<circle cx="613.5" cy="227.1" r="1.75" fill="#231f20"/>
<circle cx="619" cy="229.4" r="1.75" fill="#231f20"/>
<circle cx="624.1" cy="226.3" r="1.75" fill="#231f20"/>
<circle cx="629.3" cy="226.6" r="1.75" fill="#231f20"/>
<circle cx="634.4" cy="224.8" r="1.75" fill="#231f20"/>
<circle cx="613.5" cy="232.2" r="1.75" fill="#231f20"/>
<circle cx="624.1" cy="232.4" r="1.75" fill="#231f20"/>
<circle cx="619" cy="237.1" r="1.75" fill="#231f20"/>
<line x1="574.4" y1="219.3" x2="663.0" y2="219.3" stroke="#231f20" stroke-width="2.6"/>
<line x1="596.7" y1="210.1" x2="641.1" y2="210.1" stroke="#231f20" stroke-width="1.5"/>
<line x1="596.7" y1="226.9" x2="641.1" y2="226.9" stroke="#231f20" stroke-width="1.5"/>
<line x1="619.0" y1="210.1" x2="619.0" y2="226.9" stroke="#231f20" stroke-width="1.5"/>
<circle cx="256.6" cy="386.4" r="1.75" fill="#231f20"/>
<circle cx="251.3" cy="407.1" r="1.75" fill="#231f20"/>
<circle cx="256.6" cy="409.5" r="1.75" fill="#231f20"/>
<circle cx="261.8" cy="407.8" r="1.75" fill="#231f20"/>
<circle cx="256.6" cy="483.9" r="1.75" fill="#231f20"/>
<circle cx="256.6" cy="489.7" r="1.75" fill="#231f20"/>
<circle cx="256.6" cy="507.2" r="1.75" fill="#231f20"/>
<circle cx="248.7" cy="511.1" r="1.75" fill="#231f20"/>
<circle cx="264.4" cy="509" r="1.75" fill="#231f20"/>
<circle cx="253.8" cy="514.1" r="1.75" fill="#231f20"/>
<circle cx="259.3" cy="513.3" r="1.75" fill="#231f20"/>
<circle cx="272" cy="517.5" r="1.75" fill="#231f20"/>
<circle cx="240.7" cy="519.8" r="1.75" fill="#231f20"/>
<circle cx="246.2" cy="520" r="1.75" fill="#231f20"/>
<circle cx="266.8" cy="519.6" r="1.75" fill="#231f20"/>
<circle cx="251.3" cy="522.6" r="1.75" fill="#231f20"/>
<circle cx="256.4" cy="522.8" r="1.75" fill="#231f20"/>
<circle cx="261.7" cy="521.7" r="1.75" fill="#231f20"/>
<circle cx="233.2" cy="523.9" r="1.75" fill="#231f20"/>
<circle cx="238.3" cy="524.5" r="1.75" fill="#231f20"/>
<circle cx="243.7" cy="525.1" r="1.75" fill="#231f20"/>
<circle cx="269.5" cy="524.7" r="1.75" fill="#231f20"/>
<circle cx="274.6" cy="523.9" r="1.75" fill="#231f20"/>
<circle cx="279.7" cy="523.9" r="1.75" fill="#231f20"/>
<circle cx="248.7" cy="527.4" r="1.75" fill="#231f20"/>
<circle cx="253.8" cy="528.1" r="1.75" fill="#231f20"/>
<circle cx="259.3" cy="527.7" r="1.75" fill="#231f20"/>
<circle cx="264.4" cy="526.4" r="1.75" fill="#231f20"/>
<circle cx="233.2" cy="529.4" r="1.75" fill="#231f20"/>
<circle cx="238.3" cy="530.5" r="1.75" fill="#231f20"/>
<circle cx="243.7" cy="530.8" r="1.75" fill="#231f20"/>
<circle cx="248.7" cy="531.9" r="1.75" fill="#231f20"/>
<circle cx="253.8" cy="533.2" r="1.75" fill="#231f20"/>
<circle cx="259.3" cy="533.6" r="1.75" fill="#231f20"/>
<circle cx="264.4" cy="532.2" r="1.75" fill="#231f20"/>
<circle cx="269.5" cy="531.9" r="1.75" fill="#231f20"/>
<circle cx="274.6" cy="530.5" r="1.75" fill="#231f20"/>
<circle cx="279.7" cy="529.6" r="1.75" fill="#231f20"/>
<circle cx="233.2" cy="534.4" r="1.75" fill="#231f20"/>
<circle cx="238.3" cy="535" r="1.75" fill="#231f20"/>
<circle cx="243.7" cy="537" r="1.75" fill="#231f20"/>
<circle cx="248.7" cy="538.2" r="1.75" fill="#231f20"/>
<circle cx="253.8" cy="539.5" r="1.75" fill="#231f20"/>
<circle cx="259.3" cy="538.7" r="1.75" fill="#231f20"/>
<circle cx="264.4" cy="537.8" r="1.75" fill="#231f20"/>
<circle cx="269.5" cy="536.4" r="1.75" fill="#231f20"/>
<circle cx="274.6" cy="534.7" r="1.75" fill="#231f20"/>
<circle cx="279.7" cy="534.4" r="1.75" fill="#231f20"/>
<line x1="212.6" y1="525.8" x2="300.8" y2="525.8" stroke="#231f20" stroke-width="2.5"/>
<line x1="234.3" y1="518.1" x2="278.8" y2="518.1" stroke="#231f20" stroke-width="1.5"/>
<line x1="234.3" y1="532.4" x2="278.8" y2="532.4" stroke="#231f20" stroke-width="1.5"/>
<line x1="256.5" y1="518.1" x2="256.5" y2="532.4" stroke="#231f20" stroke-width="1.5"/>
<circle cx="607.3" cy="378.7" r="1.75" fill="#231f20"/>
<circle cx="607.4" cy="404.4" r="1.75" fill="#231f20"/>
<circle cx="602.2" cy="487" r="1.75" fill="#231f20"/>
<circle cx="607.4" cy="490" r="1.75" fill="#231f20"/>
<circle cx="612.5" cy="489.8" r="1.75" fill="#231f20"/>
<circle cx="602.2" cy="495.4" r="1.75" fill="#231f20"/>
<circle cx="612.5" cy="494.9" r="1.75" fill="#231f20"/>
<circle cx="607.4" cy="498.8" r="1.75" fill="#231f20"/>
<circle cx="604.8" cy="504.1" r="1.75" fill="#231f20"/>
<circle cx="610.2" cy="504.1" r="1.75" fill="#231f20"/>
<circle cx="607.4" cy="507" r="1.75" fill="#231f20"/>
<circle cx="610.2" cy="510.3" r="1.75" fill="#231f20"/>
<circle cx="594.8" cy="513.1" r="1.75" fill="#231f20"/>
<circle cx="599.9" cy="514.7" r="1.75" fill="#231f20"/>
<circle cx="604.8" cy="517.2" r="1.75" fill="#231f20"/>
<circle cx="610.2" cy="516.1" r="1.75" fill="#231f20"/>
<circle cx="615.1" cy="513.4" r="1.75" fill="#231f20"/>
<circle cx="620.2" cy="512.3" r="1.75" fill="#231f20"/>
<circle cx="604.8" cy="525.2" r="1.75" fill="#231f20"/>
<circle cx="610.2" cy="528" r="1.75" fill="#231f20"/>
<circle cx="607.4" cy="535.2" r="1.75" fill="#231f20"/>
<line x1="564.5" y1="507.7" x2="650.7" y2="507.7" stroke="#231f20" stroke-width="2.6"/>
<line x1="586.1" y1="492.5" x2="629.1" y2="492.5" stroke="#231f20" stroke-width="1.5"/>
<line x1="586.1" y1="515.6" x2="629.1" y2="515.6" stroke="#231f20" stroke-width="1.5"/>
<line x1="607.4" y1="492.5" x2="607.4" y2="515.6" stroke="#231f20" stroke-width="1.5"/>
</svg>
</body></html>
